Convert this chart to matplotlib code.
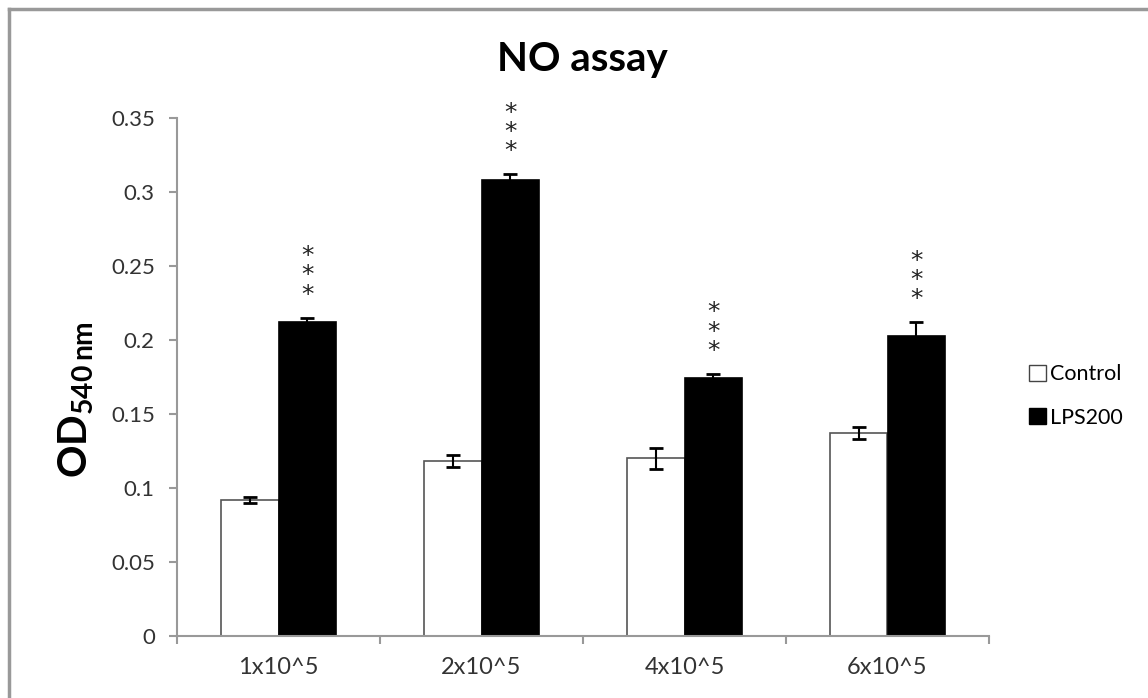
import numpy as np
import matplotlib
matplotlib.use("Agg")
import matplotlib.pyplot as plt
from matplotlib.patches import Patch
from matplotlib.lines import Line2D

# data
cells = ["1x10^5", "2x10^5", "4x10^5", "6x10^5"]
control = [0.092, 0.118, 0.120, 0.137]
control_err = [0.002, 0.004, 0.007, 0.004]
lps = [0.212, 0.308, 0.174, 0.203]
lps_err = [0.003, 0.004, 0.003, 0.009]
stars = ["*\n*\n*", "*\n*\n*", "*\n*\n*", "*\n*\n*"]

plt.rcParams['font.family'] = ['Lato', 'DejaVu Sans']
plt.rcParams['mathtext.fontset'] = 'custom'
plt.rcParams['mathtext.bf'] = 'Lato:bold'
plt.rcParams['mathtext.rm'] = 'Lato'

fig = plt.figure(figsize=(11.48, 6.98), dpi=100)
ax = fig.add_axes([177 / 1148, 1 - 636 / 698, (989 - 177) / 1148, (636 - 118) / 698])

x = np.arange(len(cells))
w = 0.283
ax.bar(x - w / 2, control, w, color='white', edgecolor='#555555', linewidth=1.2, zorder=2)
ax.bar(x + w / 2, lps, w, color='black', edgecolor='black', linewidth=1.2, zorder=2)
ax.errorbar(x - w / 2, control, yerr=control_err, fmt='none', ecolor='black',
            elinewidth=1.5, capsize=5, capthick=2, zorder=3)
ax.errorbar(x + w / 2, lps, yerr=lps_err, fmt='none', ecolor='black',
            elinewidth=1.5, capsize=5, capthick=2, zorder=3)

for xi, v, e, s in zip(x, lps, lps_err, stars):
    ax.annotate(s, (xi + w / 2, v + e), xytext=(0, 8), textcoords='offset points',
                ha='center', va='bottom', fontsize=18, linespacing=0.75,
                color='#222222', family='DejaVu Sans')

ax.set_xlim(-0.5, len(cells) - 0.5)
ax.set_ylim(0, 0.35)
ax.set_yticks(np.arange(0, 0.36, 0.05))
ax.set_yticklabels(["0", "0.05", "0.1", "0.15", "0.2", "0.25", "0.3", "0.35"])
ax.set_xticks(x)
ax.set_xticklabels(cells)
ax.set_xticks(np.arange(-0.5, len(cells), 1.0), minor=True)
ax.tick_params(axis='x', which='major', length=0, pad=15, labelsize=17, labelcolor='#333333')
ax.tick_params(axis='x', which='minor', length=6, color='#999999', width=1.5)
ax.tick_params(axis='y', length=6, color='#999999', width=1.5, labelsize=16,
               labelcolor='#333333', pad=10)

for side in ['top', 'right']:
    ax.spines[side].set_visible(False)
for side in ['left', 'bottom']:
    ax.spines[side].set_color('#999999')
    ax.spines[side].set_linewidth(1.5)

fig.text(582 / 1148, 1 - 60 / 698, "NO assay", ha='center', va='center',
         fontsize=29, fontweight='bold')
fig.text(76 / 1148, 1 - 400 / 698, r'$\mathbf{OD_{540\,nm}}$', ha='center', va='center',
         rotation=90, fontsize=29)

handles = [Patch(facecolor='white', edgecolor='#444444', linewidth=1),
           Patch(facecolor='black', edgecolor='black', linewidth=1)]
fig.legend(handles, ["Control", "LPS200"], loc='center left',
           bbox_to_anchor=(1010 / 1148, 1 - 396 / 698), frameon=False, fontsize=15.5,
           handlelength=0.75, handleheight=0.75, handletextpad=0.2, labelspacing=1.1)

# chart border
fig.add_artist(Line2D([9 / 1148, 1], [1 - 9 / 698, 1 - 9 / 698], color='#999999', lw=2.5))
fig.add_artist(Line2D([9 / 1148, 9 / 1148], [0, 1 - 9 / 698], color='#999999', lw=2.5))

fig.savefig("out.png", dpi=100)
